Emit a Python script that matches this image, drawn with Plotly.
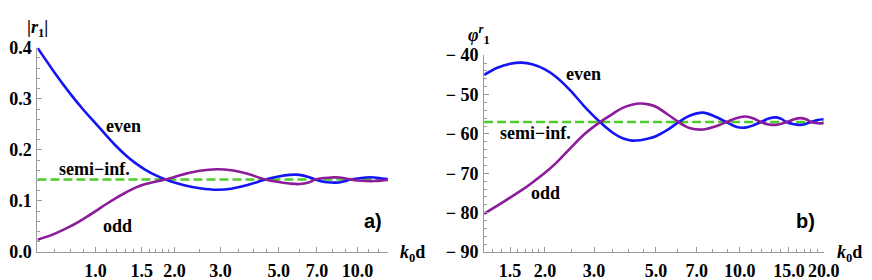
import math
import plotly.graph_objects as go

# ---------------- data ----------------
# Panel a)  |r1| versus k0 d
a_x = [0.60, 0.70, 0.80, 0.90, 1.00, 1.10, 1.20, 1.30, 1.42, 1.55, 1.70, 1.85, 2.00, 2.20,
       2.50, 2.90, 3.30, 3.80, 4.45, 5.00, 5.50, 6.00, 6.50, 6.90, 7.50, 8.00, 8.50, 9.00,
       9.40, 10.0, 10.8, 11.6, 12.4, 13.06]
a_even = [0.400, 0.350, 0.310, 0.278, 0.252, 0.228, 0.207, 0.190, 0.174, 0.161, 0.150, 0.142,
          0.136, 0.130, 0.125, 0.122, 0.124, 0.131, 0.142, 0.148, 0.151, 0.151, 0.147, 0.142,
          0.137, 0.136, 0.136, 0.139, 0.142, 0.144, 0.146, 0.146, 0.144, 0.143]
a_odd = [0.024, 0.036, 0.050, 0.065, 0.080, 0.094, 0.106, 0.116, 0.126, 0.133, 0.138, 0.142,
         0.147, 0.153, 0.159, 0.162, 0.160, 0.153, 0.142, 0.137, 0.134, 0.133, 0.136, 0.142,
         0.145, 0.146, 0.146, 0.144, 0.142, 0.140, 0.139, 0.139, 0.140, 0.141]
a_semi = 0.142

# Panel b)  phi_1^r versus k0 d
b_x = [1.21, 1.35, 1.50, 1.65, 1.80, 2.00, 2.20, 2.47, 2.80, 3.15, 3.50, 3.80, 4.10, 4.40,
       4.70, 5.00, 5.50, 6.03, 6.60, 7.38, 8.10, 8.96, 9.70, 10.45, 11.2, 11.9, 12.7, 13.5,
       14.1, 14.7, 15.5, 16.5, 17.3, 18.0, 19.0, 20.0]
b_even = [-45.0, -43.2, -42.2, -41.9, -42.3, -43.6, -45.6, -49.0, -53.4, -57.0, -59.7, -61.1,
          -61.7, -61.6, -61.2, -60.6, -59.0, -57.0, -55.4, -54.6, -55.5, -57.0, -58.2, -58.4,
          -57.8, -57.0, -56.1, -55.8, -56.2, -57.0, -57.5, -57.7, -57.4, -57.0, -56.5, -56.3]
b_odd = [-80.3, -78.2, -76.2, -74.3, -72.4, -69.9, -67.3, -63.6, -59.8, -57.0, -54.9, -53.4,
         -52.6, -52.3, -52.5, -53.1, -55.0, -57.0, -58.5, -58.9, -58.2, -57.0, -56.0, -55.6,
         -56.1, -57.0, -57.6, -57.7, -57.4, -57.0, -56.4, -56.0, -56.3, -57.0, -57.3, -57.3]
b_semi = -57.0

a_xticks = [1.0, 1.5, 2.0, 3.0, 5.0, 7.0, 10.0]
a_xticktext = ["1.0", "1.5", "2.0", "3.0", "5.0", "7.0", "10.0"]
a_xminor = [0.7, 0.8, 0.9, 1.1, 1.2, 1.3, 1.4, 1.6, 1.7, 1.8, 1.9, 2.5, 3.5, 4.0, 4.5,
            6.0, 8.0, 9.0, 11.0, 12.0, 13.0]
a_yticks = [0.0, 0.1, 0.2, 0.3, 0.4]
a_yticktext = ["0.0", "0.1", "0.2", "0.3", "0.4"]

b_xticks = [1.5, 2.0, 3.0, 5.0, 7.0, 10.0, 15.0, 20.0]
b_xticktext = ["1.5", "2.0", "3.0", "5.0", "7.0", "10.0", "15.0", "20.0"]
b_xminor = [1.3, 1.4, 1.6, 1.7, 1.8, 1.9, 2.5, 3.5, 4.0, 4.5, 6.0, 8.0, 9.0,
            11.0, 12.0, 13.0, 14.0, 16.0, 17.0, 18.0, 19.0]
b_yticks = [-90, -80, -70, -60, -50, -40]
b_yticktext = ["\u2212 90", "\u2212 80", "\u2212 70", "\u2212 60", "\u2212 50", "\u2212 40"]

# ---------------- styling ----------------
W, H = 872, 280
BLUE = "#1414F5"
PURPLE = "#8C1C9C"
GREEN = "#4CCB2A"
AXC = "#9a9a9a"
SERIF = "'Liberation Serif', 'Times New Roman', 'DejaVu Serif', serif"
SANS = "'Liberation Sans', Arial, sans-serif"

def px(x):
    return x / W

def py(y):
    return 1 - y / H

def bold(lst):
    return ["<b>" + t + "</b>" for t in lst]

fig = go.Figure()

def curves(xs, even, odd, semi, xa, ya):
    fig.add_trace(go.Scatter(x=[xs[0], xs[-1]], y=[semi, semi], mode="lines",
                             line=dict(color=GREEN, width=2.6, dash="9px,4px"),
                             xaxis=xa, yaxis=ya, showlegend=False, hoverinfo="skip"))
    fig.add_trace(go.Scatter(x=xs, y=even, mode="lines",
                             line=dict(color=BLUE, width=2.6, shape="spline", smoothing=1.0),
                             xaxis=xa, yaxis=ya, showlegend=False))
    fig.add_trace(go.Scatter(x=xs, y=odd, mode="lines",
                             line=dict(color=PURPLE, width=2.6, shape="spline", smoothing=1.0),
                             xaxis=xa, yaxis=ya, showlegend=False))

curves(a_x, a_even, a_odd, a_semi, "x", "y")
curves(b_x, b_even, b_odd, b_semi, "x2", "y2")

tickfont = dict(family=SERIF, size=18, color="black", weight="bold")

def xaxis_style(dom, rng, tv, tt, minor, anchor):
    return dict(type="log", domain=dom, range=rng, anchor=anchor,
                tickmode="array", tickvals=tv, ticktext=bold(tt),
                ticks="inside", ticklen=5, tickcolor=AXC, tickwidth=1,
                minor=dict(tickmode="array", tickvals=minor, ticks="inside",
                           ticklen=3, tickcolor=AXC, showgrid=False),
                showline=True, linecolor=AXC, linewidth=1, showgrid=False,
                zeroline=False, tickfont=tickfont, ticklabelstandoff=2)

def yaxis_style(dom, rng, tv, tt, minor_dtick, anchor):
    return dict(domain=dom, range=rng, anchor=anchor,
                tickmode="array", tickvals=tv, ticktext=bold(tt),
                ticks="inside", ticklen=5, tickcolor=AXC, tickwidth=1,
                minor=dict(dtick=minor_dtick, ticks="inside", ticklen=3,
                           tickcolor=AXC, showgrid=False),
                showline=True, linecolor=AXC, linewidth=1, showgrid=False,
                zeroline=False, tickfont=tickfont, ticklabelstandoff=1)

fig.update_layout(
    width=W, height=H, autosize=False,
    margin=dict(l=0, r=0, t=0, b=0),
    paper_bgcolor="white", plot_bgcolor="white",
    xaxis=xaxis_style([px(30), px(387)], [math.log10(0.6), math.log10(13.06)],
                      a_xticks, a_xticktext, a_xminor, "y"),
    yaxis=yaxis_style([py(252), py(32)], [0, 0.4], a_yticks, a_yticktext, 0.02, "x"),
    xaxis2=xaxis_style([px(485), px(831)], [math.log10(1.21), math.log10(20.0)],
                       b_xticks, b_xticktext, b_xminor, "y2"),
    yaxis2=yaxis_style([py(252), py(40)], [-90, -40], b_yticks, b_yticktext, 2, "x2"),
)

lab = dict(family=SERIF, size=18, color="black")
labs = dict(family=SANS, size=20, color="black")

def ann(text, x, y, font, xanchor="center"):
    fig.add_annotation(text="<b>" + text + "</b>", x=px(x), y=py(y),
                       xref="paper", yref="paper", showarrow=False, font=font,
                       xanchor=xanchor, yanchor="middle")

# panel a labels
ann("even", 118, 116, lab)
ann("semi\u2212inf.", 88, 163, lab)
ann("odd", 112, 224, lab)
ann("a)", 372, 219, labs)
ann("<i>k</i><sub>0</sub>d", 412, 254, lab)
ann("|<i>r</i><sub>1</sub>|", 30, 11, lab)

# panel b labels
ann("even", 586, 60, lab)
ann("semi\u2212inf.", 537, 124, lab)
ann("odd", 548, 188, lab)
ann("b)", 812, 219, labs)
ann("<i>k</i><sub>0</sub>d", 857, 254, lab)
ann("<i>\u03c6</i><sup><i>r</i></sup><sub>1</sub>", 480, 18, lab)

fig.write_html("out.html")
